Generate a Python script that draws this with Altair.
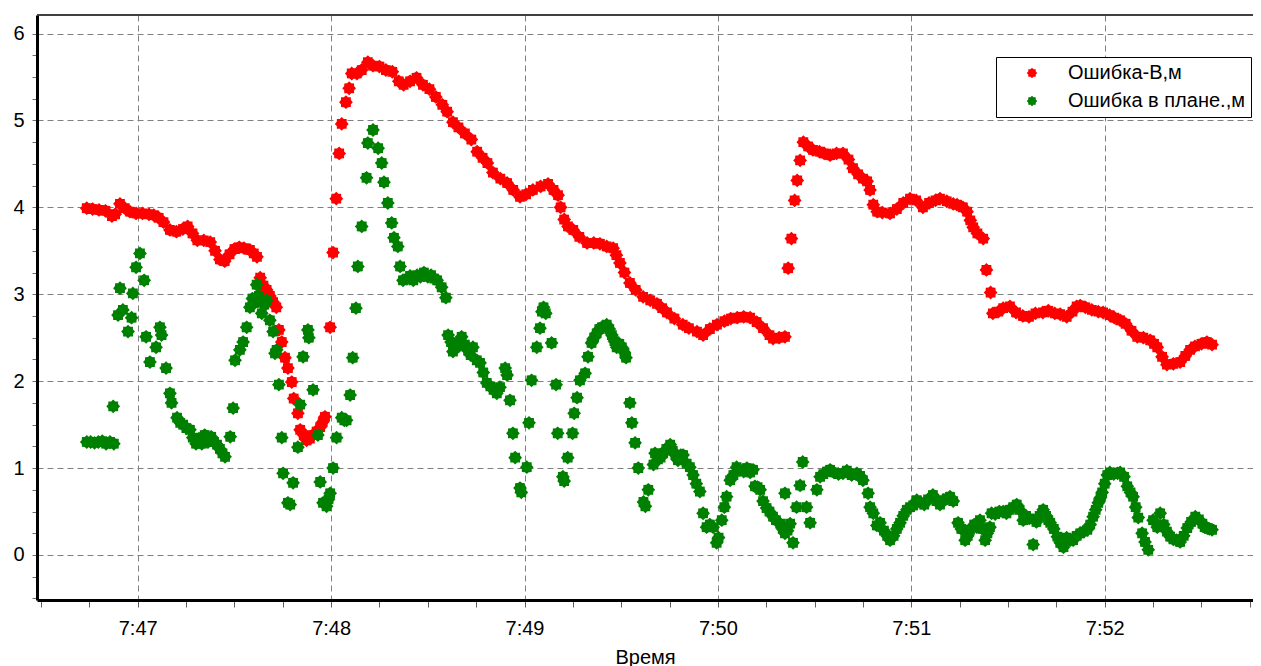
import math
import altair as alt
import pandas as pd

# ---- data: time in seconds after 7:46:00, value in metres ----
red_name = "Ошибка-В,м"
green_name = "Ошибка в плане.,м"

red_t = [44.2, 46, 48, 50, 52, 53, 54.5, 56, 57.6, 59.5, 61.5, 63.5, 65, 66.5, 68, 70, 72, 74, 75.5, 77,
         78.5, 80.5, 82.5, 84, 85.5, 87, 88.5, 90, 91.5, 93, 94.8, 96, 97, 98, 99, 100, 101, 102, 103, 103.8,
         104.7, 105.7, 106.6, 107.8, 108.4, 109.7, 110.4, 111.5, 112.4, 113.4, 114.4, 115.5, 116.6, 117.4, 118.1,
         119.7, 120.6, 121.6, 122.5, 123.3, 124.6, 125.6, 126.4, 128, 129.5, 131.4, 133, 135, 137, 139, 141,
         142.5, 144.5, 146.5, 148.5, 150.5, 152.5, 154.5, 156, 157.8, 159.5, 161.5, 163.5, 165.3, 167, 168.5,
         170.2, 172.5, 174.6, 176.5, 178.6, 180.5, 182.6, 185, 187.3, 189, 190.4, 191.2, 192.3, 193.5, 195.1,
         197, 199.4, 201.5, 203.4, 205.5, 207.5, 208.5, 209.6, 211, 212.7, 214.5, 216.8, 219, 221.1, 222.7,
         224.2, 226.5, 229.1, 231, 233.5, 235.4, 237.5, 239.7, 242, 244, 246, 248, 250, 252, 254, 256, 257.1,
         259, 260.8, 261.8, 262.8, 263.8, 264.6, 265.5, 266.5, 268, 269.5, 271.5, 273, 274.8, 276.8, 278.8,
         280.5, 281.9, 283.5, 285, 286.3, 287.2, 288.2, 289.4, 291, 293.4, 295.5, 297.5, 299.6, 301.5, 303.6,
         305.5, 307.5, 308.9, 311, 313, 314.2, 316, 317.3, 318.3, 319.2, 320.5, 322.3, 323.3, 324.6, 325.3,
         327, 328.5, 330.6, 332.5, 334.6, 336.5, 338.5, 340.8, 342.5, 344.5, 346.2, 348.2, 350, 351.3, 352.4,
         354, 356, 358, 359.5, 361.5, 363, 364.8, 366.5, 368.3, 370.1, 372, 374.1, 375.3, 376.3, 377.8, 379.3,
         381.3, 383.4, 385, 386.5, 388, 390, 391.7, 393.3]
red_v = [3.99, 3.98, 3.97, 3.96, 3.90, 3.92, 4.04, 3.99, 3.95, 3.93, 3.93, 3.92, 3.91, 3.88, 3.83, 3.74, 3.72,
         3.75, 3.78, 3.70, 3.62, 3.62, 3.60, 3.50, 3.40, 3.38, 3.46, 3.52, 3.54, 3.53, 3.51, 3.47, 3.43, 3.19,
         3.10, 3.05, 2.98, 2.91, 2.85, 2.59, 2.45, 2.27, 2.15, 1.99, 1.80, 1.63, 1.44, 1.38, 1.32, 1.34, 1.38,
         1.42, 1.47, 1.53, 1.59, 2.62, 3.48, 4.10, 4.62, 4.96, 5.21, 5.37, 5.54, 5.54, 5.58, 5.67, 5.63, 5.62,
         5.58, 5.56, 5.45, 5.41, 5.45, 5.49, 5.41, 5.36, 5.27, 5.18, 5.10, 4.98, 4.92, 4.85, 4.78, 4.64, 4.57,
         4.51, 4.40, 4.33, 4.28, 4.20, 4.12, 4.15, 4.20, 4.24, 4.27, 4.20, 4.14, 4.00, 3.86, 3.78, 3.74, 3.66,
         3.59, 3.59, 3.58, 3.55, 3.53, 3.45, 3.36, 3.25, 3.13, 3.05, 2.97, 2.93, 2.89, 2.84, 2.79, 2.72, 2.65,
         2.61, 2.57, 2.53, 2.60, 2.65, 2.69, 2.72, 2.73, 2.74, 2.73, 2.68, 2.61, 2.53, 2.49, 2.50, 2.51, 3.30,
         3.64, 4.08, 4.31, 4.54, 4.75, 4.70, 4.66, 4.64, 4.62, 4.60, 4.62, 4.62, 4.55, 4.45, 4.38, 4.33, 4.30,
         4.20, 4.03, 3.95, 3.94, 3.93, 3.98, 4.05, 4.10, 4.08, 4.00, 4.05, 4.08, 4.10, 4.07, 4.04, 4.03, 4.00,
         3.95, 3.85, 3.77, 3.70, 3.64, 3.28, 3.02, 2.78, 2.80, 2.84, 2.86, 2.79, 2.75, 2.74, 2.78, 2.79, 2.81,
         2.78, 2.77, 2.74, 2.80, 2.86, 2.87, 2.85, 2.82, 2.80, 2.79, 2.76, 2.73, 2.70, 2.66, 2.58, 2.51, 2.50,
         2.47, 2.43, 2.39, 2.28, 2.19, 2.20, 2.22, 2.29, 2.36, 2.40, 2.43, 2.45, 2.42]

green_t = [44.2, 45.4, 46.6, 47.8, 49.0, 50.2, 51.4, 52.6, 52.4, 53.9, 54.5, 55.4, 57.0, 58.1, 58.5, 59.5, 60.7,
           62.0, 62.6, 63.8, 65.7, 66.9, 67.4, 68.8, 70.0, 70.5, 72.2, 73.2, 74.1, 75.1, 76.2, 77.1, 78.1, 79.0,
           79.9, 80.8, 81.8, 82.8, 83.7, 84.6, 85.5, 86.3, 87.1, 88.7, 89.6, 90.2, 91.7, 92.7, 93.8, 94.8, 95.6,
           96.3, 96.9, 97.6, 98.5, 99.3, 100.0, 101.0, 102.0, 102.6, 103.1, 103.8, 104.7, 105.1, 106.6, 107.3,
           108.2, 109.7, 110.4, 111.3, 112.8, 113.1, 114.4, 115.9, 116.6, 117.5, 118.6, 119.2, 119.7, 120.6,
           121.7, 123.3, 124.1, 124.8, 125.9, 126.7, 127.7, 128.3, 129.5, 131.0, 131.4, 133.0, 134.6, 135.7,
           136.4, 137.6, 138.8, 139.5, 140.7, 141.4, 142.3, 143.5, 144.5, 145.5, 146.7, 147.7, 148.8, 150.0,
           151.0, 152.0, 152.9, 154.3, 155.6, 156.3, 157.2, 157.8, 158.8, 159.6, 160.5, 161.5, 162.5, 163.3,
           164.0, 165.2, 166.2, 167.2, 168.3, 169.4, 170.4, 171.4, 172.4, 174.0, 174.6, 175.5, 176.4, 177.1,
           178.6, 179.0, 180.7, 181.4, 182.2, 183.8, 184.8, 185.4, 185.9, 186.6, 188.4, 189.8, 190.3, 191.9,
           192.3, 193.4, 194.9, 195.4, 196.3, 197.2, 198.8, 199.7, 200.8, 201.6, 202.4, 203.2, 204.0, 205.5,
           206.3, 207.1, 207.9, 208.6, 209.4, 210.2, 211.0, 211.5, 212.7, 213.3, 214.3, 215.3, 216.9, 217.5,
           218.4, 220.0, 220.5, 221.4, 222.2, 223.0, 224.0, 225.2, 226.0, 226.8, 227.6, 228.5, 229.2, 230.3,
           231.3, 232.3, 233.3, 234.4, 235.4, 236.5, 237.5, 238.5, 239.6, 240.2, 241.2, 242.0, 242.7, 243.8,
           244.8, 245.8, 246.8, 248.0, 249.0, 250.0, 250.9, 251.5, 252.3, 253.1, 254.0, 255.1, 256.0, 257.1,
           258.0, 259.3, 260.1, 260.8, 260.8, 261.6, 262.4, 263.3, 264.4, 265.5, 266.3, 267.5, 268.6, 270.7,
           271.7, 272.7, 273.8, 274.8, 276.0, 277.4, 278.8, 280.0, 281.5, 283.1, 284.1, 285.0, 286.6, 287.2,
           288.2, 289.3, 290.3, 291.5, 292.5, 293.4, 294.5, 295.5, 296.5, 297.5, 298.6, 299.6, 300.6, 301.7,
           303.0, 304.0, 305.2, 306.7, 307.8, 308.9, 310.0, 311.0, 312.0, 313.0, 314.5, 315.5, 316.7, 317.5,
           318.2, 319.5, 320.3, 321.3, 322.1, 322.9, 323.6, 324.4, 324.9, 326.0, 327.3, 328.5, 329.5, 330.5,
           331.6, 332.7, 333.6, 334.7, 335.6, 336.6, 337.8, 338.8, 339.8, 340.9, 341.8, 342.5, 343.1, 344.2,
           345.3, 346.2, 347.2, 348.2, 349.3, 350.2, 351.3, 352.4, 353.5, 354.6, 355.5, 356.4, 357.2, 358.0,
           358.7, 359.2, 360.0, 360.8, 361.6, 362.8, 364.0, 364.8, 366.0, 367.0, 368.0, 368.8, 369.6, 370.4,
           371.6, 372.5, 373.5, 375.0, 376.3, 377.2, 378.3, 379.3, 380.3, 381.3, 382.3, 383.4, 384.5, 385.6,
           386.8, 388.1, 389.2, 390.3, 391.0, 391.8, 392.5, 393.3]
green_v = [1.30, 1.30, 1.29, 1.30, 1.31, 1.28, 1.30, 1.28, 1.71, 2.76, 3.07, 2.82, 2.57, 2.73, 3.01, 3.31, 3.47,
           3.16, 2.51, 2.22, 2.39, 2.62, 2.53, 2.15, 1.86, 1.75, 1.58, 1.52, 1.50, 1.46, 1.44, 1.35, 1.28, 1.34,
           1.28, 1.38, 1.30, 1.36, 1.30, 1.27, 1.22, 1.17, 1.13, 1.36, 1.69, 2.24, 2.36, 2.45, 2.62, 2.85, 2.95,
           2.90, 3.11, 2.98, 2.78, 2.88, 2.93, 2.70, 2.57, 2.32, 2.36, 1.96, 1.35, 0.94, 0.60, 0.58, 0.83, 1.24,
           1.73, 2.28, 2.59, 2.50, 1.90, 1.38, 0.84, 0.60, 0.56, 0.64, 0.71, 1.00, 1.35, 1.58, 1.55, 1.55, 1.84,
           2.27, 2.84, 3.32, 3.78, 4.34, 4.74, 4.89, 4.68, 4.51, 4.29, 4.05, 3.82, 3.65, 3.55, 3.32, 3.16, 3.18,
           3.21, 3.16, 3.22, 3.20, 3.25, 3.20, 3.22, 3.18, 3.16, 3.08, 2.96, 2.53, 2.45, 2.34, 2.42, 2.40, 2.51,
           2.42, 2.35, 2.30, 2.39, 2.24, 2.21, 2.10, 1.98, 1.94, 1.90, 1.86, 1.93, 2.15, 2.07, 1.78, 1.40, 1.12,
           0.77, 0.72, 1.01, 1.52, 2.01, 2.39, 2.61, 2.80, 2.85, 2.78, 2.44, 1.96, 1.40, 0.90, 0.85, 1.12, 1.40,
           1.63, 1.81, 2.01, 2.09, 2.28, 2.44, 2.50, 2.55, 2.60, 2.62, 2.65, 2.60, 2.53, 2.46, 2.39, 2.43, 2.39,
           2.33, 2.27, 1.75, 1.52, 1.29, 1.00, 0.61, 0.56, 0.75, 1.04, 1.17, 1.10, 1.12, 1.17, 1.22, 1.27, 1.20,
           1.15, 1.09, 1.15, 1.15, 1.05, 1.01, 0.92, 0.82, 0.73, 0.48, 0.32, 0.35, 0.32, 0.14, 0.20, 0.40, 0.55,
           0.67, 0.86, 0.92, 1.01, 0.98, 0.96, 1.00, 0.95, 0.98, 0.79, 0.78, 0.75, 0.62, 0.54, 0.50, 0.44, 0.40,
           0.36, 0.30, 0.25, 0.71, 0.28, 0.36, 0.14, 0.55, 0.80, 1.07, 0.55, 0.37, 0.75, 0.90, 0.93, 0.96, 0.98,
           0.95, 0.93, 0.94, 0.97, 0.92, 0.94, 0.91, 0.86, 0.71, 0.55, 0.48, 0.34, 0.37, 0.28, 0.22, 0.17, 0.22,
           0.30, 0.37, 0.45, 0.52, 0.55, 0.57, 0.63, 0.60, 0.58, 0.64, 0.69, 0.62, 0.58, 0.63, 0.65, 0.67, 0.62,
           0.37, 0.30, 0.17, 0.22, 0.29, 0.35, 0.32, 0.40, 0.30, 0.17, 0.25, 0.32, 0.48, 0.47, 0.50, 0.50, 0.48,
           0.52, 0.55, 0.58, 0.52, 0.40, 0.45, 0.42, 0.12, 0.38, 0.45, 0.52, 0.45, 0.40, 0.37, 0.30, 0.21, 0.14,
           0.09, 0.20, 0.17, 0.17, 0.22, 0.25, 0.27, 0.29, 0.35, 0.44, 0.52, 0.60, 0.66, 0.72, 0.82, 0.92, 0.95,
           0.93, 0.94, 0.95, 0.90, 0.79, 0.72, 0.67, 0.55, 0.43, 0.25, 0.15, 0.06, 0.40, 0.32, 0.48, 0.35, 0.27,
           0.21, 0.18, 0.17, 0.15, 0.22, 0.31, 0.38, 0.44, 0.41, 0.36, 0.32, 0.31, 0.30, 0.29]

x_ticks = list(range(30, 406, 15))          # every 15 s, minutes at multiples of 60
y_ticks = [-0.5 + 0.25 * k for k in range(27)]
x_domain = [28.76, 406.0]
y_domain = [-0.518, 6.213]

df = pd.concat([
    pd.DataFrame({"t": red_t, "v": red_v, "s": red_name}),
    pd.DataFrame({"t": green_t, "v": green_v, "s": green_name}),
], ignore_index=True)

# 8-pointed star marker
pts = []
for k in range(16):
    a = math.pi * k / 8
    r = 1.0 if k % 2 == 0 else 0.78
    pts.append(f"{r*math.cos(a):.3f},{r*math.sin(a):.3f}")
star = "M" + "L".join(pts) + "Z"

FONT = "Liberation Sans"
W, H = 1216, 585

points = alt.Chart(df).mark_point(filled=True, shape=star, size=190, opacity=1, strokeWidth=0).encode(
    x=alt.X("t:Q", scale=alt.Scale(domain=x_domain, nice=False, zero=False),
            axis=alt.Axis(values=x_ticks, title="Время",
                          labelExpr="datum.value % 60 === 0 ? '7:' + (46 + datum.value / 60) : ''",
                          gridOpacity={"condition": {"test": "datum.value % 60 === 0", "value": 1}, "value": 0},
                          grid=True, gridDash=[6, 4], gridColor="#808080", gridWidth=1,
                          domainColor="#000000", domainWidth=3,
                          tickColor="#606060", tickSize=7, tickWidth=1,
                          labelPadding=11, labelFontSize=20, labelFont=FONT, labelColor="#000000",
                          labelFlush=False, labelOverlap=False,
                          titleFont=FONT, titleFontSize=20, titleFontWeight="normal",
                          titleColor="#000000", titlePadding=9)),
    y=alt.Y("v:Q", scale=alt.Scale(domain=y_domain, nice=False, zero=False),
            axis=alt.Axis(values=y_ticks, title=None,
                          labelExpr="datum.value % 1 === 0 ? format(datum.value, 'd') : ''",
                          gridOpacity={"condition": {"test": "datum.value % 1 === 0", "value": 1}, "value": 0},
                          grid=True, gridDash=[6, 4], gridColor="#808080", gridWidth=1,
                          domainColor="#000000", domainWidth=3,
                          tickColor="#707070", tickSize=5, tickWidth=1,
                          labelPadding=8, labelFontSize=20, labelFont=FONT, labelColor="#000000",
                          labelFlush=False, labelOverlap=False)),
    color=alt.Color("s:N",
                    scale=alt.Scale(domain=[red_name, green_name], range=["#ff0000", "#008000"]),
                    legend=alt.Legend(title=None, orient="none", legendX=959, legendY=42,
                                      padding=6, rowPadding=8, fillColor="#ffffff",
                                      strokeColor="#000000", symbolType=star, symbolSize=110,
                                      symbolOffset=20, labelOffset=26, labelFontSize=20,
                                      labelFont=FONT, labelColor="#000000", labelLimit=400)),
)

top_border = alt.Chart(pd.DataFrame({"a": [0]})).mark_rule(color="#404040", strokeWidth=2).encode(
    x=alt.value(0), x2=alt.value(W), y=alt.value(0)
)

chart = alt.layer(points, top_border).properties(
    width=W, height=H,
    autosize=alt.AutoSizeParams(type="none"),
    padding={"left": 29, "top": 7, "right": 0, "bottom": 66},
    background="#ffffff",
).configure_view(stroke=None)

chart.save("out.html", embed_options={"renderer": "svg", "actions": False})
